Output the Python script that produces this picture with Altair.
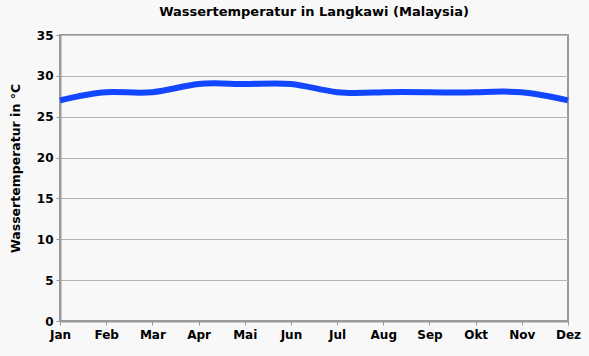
import altair as alt
import pandas as pd

months = ["Jan", "Feb", "Mar", "Apr", "Mai", "Jun", "Jul", "Aug", "Sep", "Okt", "Nov", "Dez"]
temps = [27, 28, 28, 29, 29, 29, 28, 28, 28, 28, 28, 27]

df = pd.DataFrame({"Monat": months, "Temp": temps})

FONT = "DejaVu Sans"

line = alt.Chart(df).mark_line(
    color="#1347ff", strokeWidth=6, interpolate="natural"
).encode(
    x=alt.X("Monat:N", sort=months,
            scale=alt.Scale(type="point", padding=0),
            axis=alt.Axis(title=None, labelAngle=0, labelFont=FONT, labelFontWeight="bold",
                          labelFontSize=12, labelColor="#000", tickSize=4, tickColor="#999",
                          domainColor="#999", domainWidth=2, labelPadding=4, grid=False)),
    y=alt.Y("Temp:Q", scale=alt.Scale(domain=[0, 35], nice=False),
            axis=alt.Axis(title="Wassertemperatur in °C", values=list(range(0, 36, 5)),
                          titleFont=FONT, titleFontWeight="bold", titleFontSize=12.5,
                          titleColor="#000", titleX=-38, titleY=133,
                          labelFont=FONT, labelFontWeight="bold", labelFontSize=12,
                          labelColor="#000", tickSize=4, tickColor="#999",
                          domainColor="#999", domainWidth=2, labelPadding=3,
                          grid=True, gridColor="#b4b4b4", gridWidth=1)),
)

chart = line.properties(
    width=508, height=286,
    title=alt.TitleParams("Wassertemperatur in Langkawi (Malaysia)", font=FONT,
                          fontSize=13, fontWeight="bold", color="#000", offset=10),
    background="#f8f8f8",
    padding={"left": 60, "top": 35, "right": 21, "bottom": 35},
    autosize=alt.AutoSizeParams(type="none"),
).configure_view(stroke="#999", strokeWidth=2, fill="#f8f8f8")

chart.save("out.html", embed_options={"renderer": "svg", "actions": False})
